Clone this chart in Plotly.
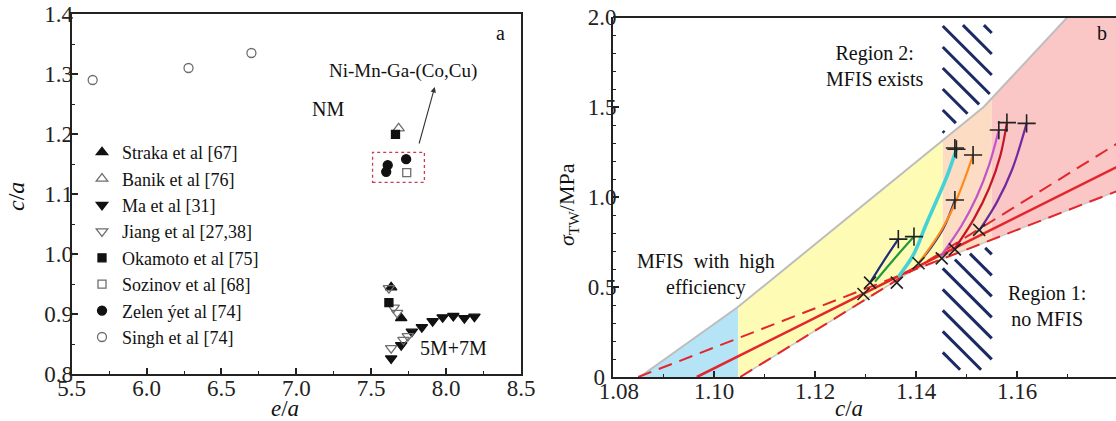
import numpy as np
import plotly.graph_objects as go

# ---------------- Panel a data (e/a vs c/a) ----------------
straka_x = [7.633, 7.700]
straka_y = [0.9445, 0.893]
banik_x = [7.683]
banik_y = [1.2095]
ma_x = [7.633, 7.700, 7.771, 7.838, 7.910, 7.977, 8.048, 8.122, 8.189]
ma_y = [0.826, 0.848, 0.8705, 0.878, 0.888, 0.8945, 0.8967, 0.893, 0.8955]
jiang_x = [7.618, 7.650, 7.673, 7.633, 7.715, 7.744]
jiang_y = [0.943, 0.9105, 0.902, 0.843, 0.857, 0.863]
okamoto_x = [7.618, 7.662]
okamoto_y = [0.919, 1.1995]
sozinov_x = [7.737]
sozinov_y = [1.1355]
zeleny_x = [7.610, 7.600, 7.733]
zeleny_y = [1.148, 1.137, 1.158]
singh_x = [5.64, 6.28, 6.70]
singh_y = [1.29, 1.31, 1.335]

xticks_a = [5.5, 6.0, 6.5, 7.0, 7.5, 8.0, 8.5]
yticks_a = [0.8, 0.9, 1.0, 1.1, 1.2, 1.3, 1.4]

# ---------------- Panel b data (c/a vs sigma_TW) ----------------
upper_x = [1.0853, 1.1048, 1.1534, 1.1699, 1.1800]
upper_y = [0.0, 0.39, 1.50, 2.00, 2.30]
dashA_x = [1.0850, 1.1800]
dashA_y = [0.0, 1.035]
dashB_x = [1.1052, 1.1800]
dashB_y = [0.0, 1.30]
solid_x = [1.0966, 1.1800]
solid_y = [0.0, 1.17]
band_edges = [1.0853, 1.1048, 1.1453, 1.1550, 1.1800]

curve_navy1_x = [1.1309, 1.1335, 1.1365]
curve_navy1_y = [0.524, 0.64, 0.766]
curve_green_x = [1.1319, 1.1355, 1.1396]
curve_green_y = [0.530, 0.65, 0.780]
curve_cyan_x = [1.1365, 1.1395, 1.1421, 1.1461, 1.1480]
curve_cyan_y = [0.557, 0.68, 0.854, 1.113, 1.265]
curve_navy2_x = [1.1405, 1.1430, 1.1455, 1.1477]
curve_navy2_y = [0.632, 0.72, 0.83, 0.983]
curve_orange_x = [1.1405, 1.1447, 1.1475, 1.1495, 1.1513]
curve_orange_y = [0.632, 0.80, 0.95, 1.09, 1.233]
curve_magenta_x = [1.1448, 1.1490, 1.1520, 1.1545, 1.1564]
curve_magenta_y = [0.668, 0.84, 1.00, 1.18, 1.372]
curve_red_x = [1.1477, 1.1515, 1.1545, 1.1567, 1.1580]
curve_red_y = [0.715, 0.88, 1.05, 1.23, 1.413]
curve_purple_x = [1.1526, 1.1560, 1.1590, 1.1619]
curve_purple_y = [0.817, 0.97, 1.15, 1.409]

cross_x = [1.1296, 1.1309, 1.1362, 1.1405, 1.1451, 1.1477, 1.1525]
cross_y = [0.461, 0.524, 0.524, 0.632, 0.659, 0.709, 0.817]
plus_x = [1.1365, 1.1396, 1.1480, 1.1477, 1.1513, 1.1477, 1.1564, 1.1580, 1.1619]
plus_y = [0.766, 0.780, 1.265, 1.272, 1.233, 0.983, 1.372, 1.413, 1.409]

xticks_b = [1.08, 1.10, 1.12, 1.14, 1.16]
xticktext_b = ["\u20021.08", "1.10", "1.12", "1.14", "1.16"]
yticks_b = [0, 0.5, 1.0, 1.5, 2.0]
yticktext_b = ["0\u2002", "0.5", "1.0", "1.5", "2.0"]

# ---------------- layout geometry ----------------
W, H = 1116, 421
FONT = "Liberation Serif"
ax_a_px = (71.7, 521.0, 14.0, 374.0)   # left, right, top, bottom
ax_b_px = (613.0, 1116.0, 17.0, 377.0)
xr_a, yr_a = [5.5, 8.5], [0.8, 1.4]
xr_b, yr_b = [1.08, 1.08 + (ax_b_px[1] - ax_b_px[0]) / 5050.0], [0.0, 2.0]


def dom_x(p):
    return [p[0] / W, p[1] / W]


def dom_y(p):
    return [1 - p[3] / H, 1 - p[2] / H]


fig = go.Figure()

# ---------- panel a traces ----------
gray = "#6e6e6e"
blk = "#111111"
series_a = [
    ("Straka et al [67]", straka_x, straka_y, "triangle-up", blk, 10),
    ("Banik et al [76]", banik_x, banik_y, "triangle-up-open", gray, 10),
    ("Ma et al [31]", ma_x, ma_y, "triangle-down", blk, 10),
    ("Jiang et al [27,38]", jiang_x, jiang_y, "triangle-down-open", gray, 10),
    ("Okamoto et al [75]", okamoto_x, okamoto_y, "square", blk, 8),
    ("Sozinov et al [68]", sozinov_x, sozinov_y, "square-open", gray, 8),
    ("Zelen \u00fdet al [74]", zeleny_x, zeleny_y, "circle", blk, 9),
    ("Singh et al [74]", singh_x, singh_y, "circle-open", gray, 9),
]
for name, xs, ys, sym, col, sz in series_a:
    fig.add_trace(go.Scatter(
        x=xs, y=ys, mode="markers", name=name,
        marker=dict(symbol=sym, color=col, size=sz, line=dict(color=col, width=1.3)),
        xaxis="x", yaxis="y", showlegend=True))

# ---------- panel b: colored bands ----------
band_colors = ["#b4e4f6", "#fefcb4", "#fcdcc2", "#fbc6c6"]


def upper_at(x):
    return np.interp(x, upper_x, upper_y)


def line_at(x, lx, ly):
    return ly[0] + (ly[1] - ly[0]) * (np.asarray(x) - lx[0]) / (lx[1] - lx[0])


def lower_at(x):
    x = np.asarray(x, dtype=float)
    a = line_at(x, dashA_x, dashA_y)
    b = line_at(x, dashB_x, dashB_y)
    low = np.minimum(a, b)
    return np.where(x < dashB_x[0], 0.0, np.maximum(low, 0.0))


for i, col in enumerate(band_colors):
    xa, xb = band_edges[i], band_edges[i + 1]
    xs = np.linspace(xa, xb, 60)
    up = upper_at(xs)
    lo = lower_at(xs)
    px = np.concatenate([xs, xs[::-1]])
    py = np.concatenate([up, lo[::-1]])
    fig.add_trace(go.Scatter(x=px, y=py, fill="toself", fillcolor=col, mode="none",
                             xaxis="x2", yaxis="y2", showlegend=False, hoverinfo="skip"))

# gray outer boundaries
fig.add_trace(go.Scatter(x=upper_x, y=upper_y, mode="lines",
                         line=dict(color="#bdbdbd", width=2),
                         xaxis="x2", yaxis="y2", showlegend=False))
xs_low = np.linspace(dashB_x[0], band_edges[-1], 80)
fig.add_trace(go.Scatter(x=xs_low, y=lower_at(xs_low), mode="lines",
                         line=dict(color="#c8c8c8", width=1.5),
                         xaxis="x2", yaxis="y2", showlegend=False))

# ---------- hatching ----------
hatch_x0, hatch_x1 = 1.1453, 1.1550
px_per_x = (ax_b_px[1] - ax_b_px[0]) / (xr_b[1] - xr_b[0])
px_per_y = (ax_b_px[3] - ax_b_px[2]) / (yr_b[1] - yr_b[0])
slope = -px_per_x / px_per_y
spacing = 21.0 / px_per_y
hx, hy = [], []
xs_h = np.linspace(hatch_x0, hatch_x1, 300)
for region in ("top", "bottom"):
    if region == "top":
        ylo = upper_at(xs_h) + 0.035
        yhi = np.full_like(xs_h, 1.955)
        cs = np.arange(0.55, 2.6, spacing)
    else:
        ylo = np.full_like(xs_h, 0.04)
        yhi = lower_at(xs_h) - 0.03
        cs = np.arange(0.02, 1.2, spacing)
    for c in cs:
        yl = c + slope * (xs_h - hatch_x0)
        m = (yl >= ylo) & (yl <= yhi)
        if m.sum() < 8:
            continue
        idx = np.where(m)[0]
        hx += [xs_h[idx[0]], xs_h[idx[-1]], None]
        hy += [yl[idx[0]], yl[idx[-1]], None]
fig.add_trace(go.Scatter(x=hx, y=hy, mode="lines", line=dict(color="#1b2a63", width=3),
                         xaxis="x2", yaxis="y2", showlegend=False, hoverinfo="skip"))

# ---------- red lines ----------
red = "#e3262c"
fig.add_trace(go.Scatter(x=dashA_x, y=dashA_y, mode="lines",
                         line=dict(color=red, width=2, dash="14px,8px"),
                         xaxis="x2", yaxis="y2", showlegend=False))
fig.add_trace(go.Scatter(x=dashB_x, y=dashB_y, mode="lines",
                         line=dict(color=red, width=2, dash="14px,8px"),
                         xaxis="x2", yaxis="y2", showlegend=False))
fig.add_trace(go.Scatter(x=solid_x, y=solid_y, mode="lines",
                         line=dict(color=red, width=2.6),
                         xaxis="x2", yaxis="y2", showlegend=False))

# ---------- colored curves ----------
curves = [
    (curve_cyan_x, curve_cyan_y, "#45d2d6", 3.6),
    (curve_navy1_x, curve_navy1_y, "#1f2d7a", 2.2),
    (curve_green_x, curve_green_y, "#1f9a3c", 2.2),
    (curve_navy2_x, curve_navy2_y, "#24348f", 2.2),
    (curve_orange_x, curve_orange_y, "#ff8a1c", 2.2),
    (curve_magenta_x, curve_magenta_y, "#c453c8", 2.2),
    (curve_red_x, curve_red_y, "#c4162a", 2.2),
    (curve_purple_x, curve_purple_y, "#6f2c9e", 2.2),
]
for cx, cy, col, w in curves:
    fig.add_trace(go.Scatter(x=cx, y=cy, mode="lines", line=dict(color=col, width=w, shape="spline"),
                             xaxis="x2", yaxis="y2", showlegend=False))

fig.add_trace(go.Scatter(x=cross_x, y=cross_y, mode="markers",
                         marker=dict(symbol="x-thin", size=12, line=dict(color="#222", width=1.6)),
                         xaxis="x2", yaxis="y2", showlegend=False))
fig.add_trace(go.Scatter(x=plus_x, y=plus_y, mode="markers",
                         marker=dict(symbol="cross-thin", size=13, line=dict(color="#222", width=1.6)),
                         xaxis="x2", yaxis="y2", showlegend=False))

# ---------- axes ----------
axis_common = dict(showline=True, linecolor="#222", linewidth=2, ticks="inside",
                   ticklen=6, tickwidth=1.5, tickcolor="#222", showgrid=False, zeroline=False,
                   automargin=False,
                   tickfont=dict(family=FONT, size=23, color="#222"))
minor = dict(ticks="inside", ticklen=3, tickwidth=1.2, tickcolor="#222", showgrid=False)

fig.update_layout(
    width=W, height=H, autosize=False,
    margin=dict(l=0, r=0, t=0, b=0, pad=0),
    paper_bgcolor="white", plot_bgcolor="white",
    font=dict(family=FONT, color="#111"),
    xaxis=dict(domain=dom_x(ax_a_px), range=xr_a, tickvals=xticks_a, tickformat=".1f",
               mirror=True, anchor="y", minor=dict(dtick=0.25, **minor),
               ticklabelstandoff=-8, **axis_common),
    yaxis=dict(domain=dom_y(ax_a_px), range=yr_a, tickvals=yticks_a, tickformat=".1f",
               mirror=True, anchor="x", minor=dict(dtick=0.05, **minor),
               ticklabelstandoff=-8, **axis_common),
    xaxis2=dict(domain=dom_x(ax_b_px), range=xr_b, tickvals=xticks_b, ticktext=xticktext_b,
                mirror=False, anchor="y2", minor=dict(dtick=0.01, **minor),
                ticklabelstandoff=-8, **axis_common),
    yaxis2=dict(domain=dom_y(ax_b_px), range=yr_b, tickvals=yticks_b, ticktext=yticktext_b,
                mirror=False, anchor="x2", minor=dict(dtick=0.1, **minor),
                ticklabelstandoff=-10, **axis_common),
    legend=dict(x=82 / W, y=1 - 134 / H, xanchor="left", yanchor="top",
                bgcolor="rgba(0,0,0,0)", font=dict(family=FONT, size=18, color="#111"),
                itemwidth=30, tracegroupgap=0),
    showlegend=True,
)

# top border of panel b
fig.add_shape(type="line", xref="x2 domain", yref="y2 domain", x0=0, x1=1, y0=1, y1=1,
              line=dict(color="#222", width=2))

# dashed box around Ni-Mn-Ga-(Co,Cu) points
fig.add_shape(type="rect", xref="x", yref="y", x0=7.509, x1=7.855, y0=1.1195, y1=1.1695,
              line=dict(color="#c83a55", width=1.3, dash="dot"))

ann = []


def txt(x, y, text, xref="x", yref="y", size=20, xanchor="center", yanchor="middle", angle=0):
    ann.append(dict(x=x, y=y, xref=xref, yref=yref, text=text, showarrow=False,
                    xanchor=xanchor, yanchor=yanchor, textangle=angle,
                    font=dict(family=FONT, size=size, color="#111")))


# arrow
ann.append(dict(x=7.924, y=1.2783, ax=7.817, ay=1.1817, xref="x", yref="y", axref="x", ayref="y",
                text="", showarrow=True, arrowhead=2, arrowsize=1, arrowwidth=1.1, arrowcolor="#333"))
txt(7.71, 1.305, "Ni-Mn-Ga-(Co,Cu)", size=19)
txt(7.21, 1.242, "NM", size=20)
txt(8.05, 0.843, "5M+7M", size=20)
txt(8.36, 1.368, "a", size=20)

txt(1.1218, 1.73, "Region 2:<br>MFIS exists", xref="x2", yref="y2", xanchor="left")
txt(1.0843, 0.567, "MFIS\u00a0 with\u00a0 high<br>efficiency", xref="x2", yref="y2", xanchor="left")
txt(1.1578, 0.397, "Region 1:<br>no MFIS", xref="x2", yref="y2", xanchor="left")
txt(1.1769, 1.911, "b", xref="x2", yref="y2", size=20)

# axis titles
txt(16 / W, 1 - 197 / H, "<i>c</i>/<i>a</i>", xref="paper", yref="paper", size=24, angle=-90)
txt(285 / W, 1 - 408 / H, "<i>e</i>/<i>a</i>", xref="paper", yref="paper", size=23)
txt(568 / W, 1 - 205 / H, "<i>σ</i><sub>TW</sub>/MPa", xref="paper", yref="paper", size=22, angle=-90)
txt(849 / W, 1 - 408 / H, "<i>c</i>/<i>a</i>", xref="paper", yref="paper", size=23)

fig.update_layout(annotations=ann)
fig.write_html("out.html", config={"displayModeBar": False},
               post_script="document.body.style.margin='0';")
